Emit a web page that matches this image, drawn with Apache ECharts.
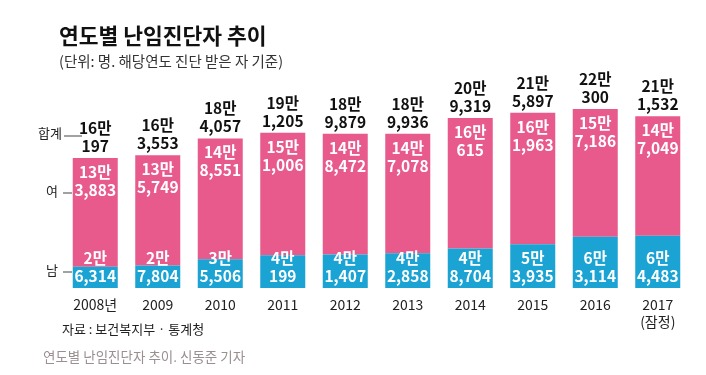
<!DOCTYPE html>
<html>
<head>
<meta charset="utf-8">
<script src="https://cdn.jsdelivr.net/npm/echarts@6/dist/echarts.min.js"></script>
<style>
html, body { margin: 0; padding: 0; background: #fff; }
#chart { width: 706px; height: 375px; }
</style>
</head>
<body>
<div id="chart"></div>
<script>
// 연도별 난임진단자 (단위: 명)
var years = ['2008년', '2009', '2010', '2011', '2012', '2013', '2014', '2015', '2016', '2017\n(잠정)'];
var male = [26314, 27804, 35506, 40199, 41407, 42858, 48704, 53935, 63114, 64483];
var female = [133883, 135749, 148551, 151006, 148472, 147078, 160615, 161963, 157186, 147049];
var total = [160197, 163553, 184057, 191205, 189879, 189936, 209319, 215897, 220300, 211532];

var FONT = '"Noto Sans CJK KR", sans-serif';

function manLabel(v){ // 16만\n197 형식
    var man = Math.floor(v / 10000);
    var rest = v % 10000;
    return man + '만\n' + rest.toLocaleString('en-US');
}

var chart = echarts.init(document.getElementById('chart'));
var option = {
    animation: false,
    title: [
        {
            text: '연도별 난임진단자 추이',
            left: 54, top: 20,
            textStyle: { fontFamily: FONT, fontSize: 21.5, fontWeight: 'bold', color: '#111' }
        },
        {
            text: '(단위: 명. 해당연도 진단 받은 자 기준)',
            left: 54, top: 49,
            textStyle: { fontFamily: FONT, fontSize: 14.5, fontWeight: 'normal', color: '#333' }
        },
        {
            text: '자료 : 보건복지부 · 통계청',
            left: 57, top: 318,
            textStyle: { fontFamily: FONT, fontSize: 13, fontWeight: 'normal', color: '#222' }
        },
        {
            text: '연도별 난임진단자 추이. 신동준 기자',
            left: 38, top: 345,
            textStyle: { fontFamily: FONT, fontSize: 13.5, fontWeight: 'normal', color: '#9a9090' }
        }
    ],
    grid: { left: 64, right: 17, top: 85, bottom: 87 },
    xAxis: {
        type: 'category',
        data: years,
        axisLine: { show: false },
        axisTick: { show: false },
        axisLabel: { color: '#222', fontFamily: FONT, fontSize: 14, margin: 8, lineHeight: 17 }
    },
    yAxis: {
        type: 'value',
        min: 0, max: 250000,
        show: false
    },
    series: [
        {
            name: '남',
            type: 'bar',
            stack: 'all',
            data: male,
            barWidth: 45,
            itemStyle: { color: '#1aa3d3' },
            label: {
                show: true,
                position: 'insideBottom',
                distance: 3,
                color: '#fff',
                fontFamily: FONT,
                fontWeight: 'bold',
                fontSize: 15.5,
                lineHeight: 18,
                formatter: function(p){ return manLabel(p.value); }
            },
            z: 3
        },
        {
            name: '여',
            type: 'bar',
            stack: 'all',
            data: female,
            barWidth: 45,
            itemStyle: { color: '#e85a8c' },
            label: {
                show: true,
                position: 'insideTop',
                distance: 5,
                color: '#fff',
                fontFamily: FONT,
                fontWeight: 'bold',
                fontSize: 15.5,
                lineHeight: 18,
                formatter: function(p){ return manLabel(p.value); }
            },
            z: 2
        },
        {
            name: '합계',
            type: 'bar',
            data: total,
            barWidth: 45,
            barGap: '-100%',
            itemStyle: { color: 'rgba(0,0,0,0)' },
            label: {
                show: true,
                position: 'top',
                distance: 3,
                color: '#111',
                fontFamily: FONT,
                fontWeight: 'bold',
                fontSize: 15.5,
                lineHeight: 18,
                formatter: function(p){ return manLabel(p.value); }
            },
            z: 1
        }
    ],
    graphic: [
        { type: 'text', left: 38, top: 127, style: { text: '합계', font: '13px ' + FONT, fill: '#222' } },
        { type: 'line', shape: { x1: 64, y1: 136, x2: 82, y2: 136 }, style: { stroke: '#444', lineWidth: 1 } },
        { type: 'text', left: 46, top: 185, style: { text: '여', font: '13px ' + FONT, fill: '#222' } },
        { type: 'line', shape: { x1: 63, y1: 193, x2: 72, y2: 193 }, style: { stroke: '#444', lineWidth: 1 } },
        { type: 'text', left: 46, top: 264, style: { text: '남', font: '13px ' + FONT, fill: '#222' } },
        { type: 'line', shape: { x1: 63, y1: 272, x2: 72, y2: 272 }, style: { stroke: '#444', lineWidth: 1 } }
    ]
};
chart.setOption(option);
</script>
</body>
</html>
